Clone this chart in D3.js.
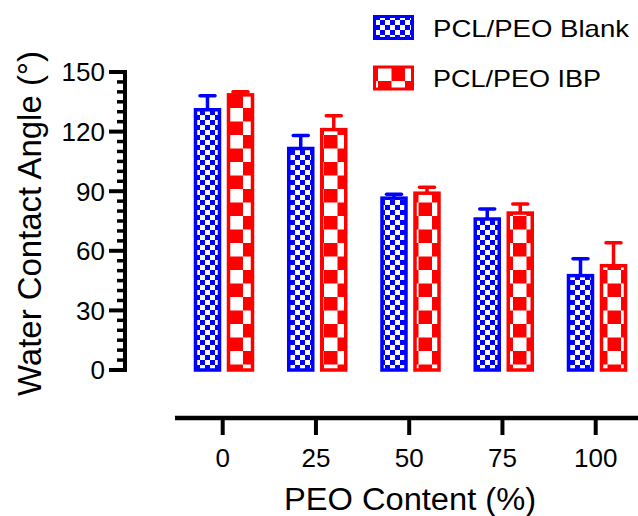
<!DOCTYPE html>
<html><head><meta charset="utf-8">
<script src="https://cdn.jsdelivr.net/npm/d3@7"></script>
<style>
html,body{margin:0;padding:0;background:#fff;}
text{font-family:"Liberation Sans",Arial,sans-serif;fill:#000;}
</style></head>
<body>
<svg id="chart" width="638" height="516"></svg>
<script>
const categories = ["0","25","50","75","100"];
const seriesNames = ["PCL/PEO Blank","PCL/PEO IBP"];
const blankValues = [131, 111.5, 86.5, 76, 47.5];
const blankErrors = [7, 6.5, 2, 5, 8.5];
const ibpValues = [138.5, 121, 89, 79, 52.5];
const ibpErrors = [1.5, 7, 3, 4.5, 11.5];
const yTicks = [0, 30, 60, 90, 120, 150];
const yMinorTicks = d3.range(0, 151, 5);
const xTitle = "PEO Content (%)";
const yTitle = "Water Contact Angle (°)";
const colors = ["#0000FF", "#FF0000"];

const svg = d3.select("#chart");
const defs = svg.append("defs");

// patterns
function checker(id, color, cell){
  const p = defs.append("pattern").attr("id", id).attr("patternUnits","userSpaceOnUse")
    .attr("width", cell*2).attr("height", cell*2);
  p.append("rect").attr("width", cell*2).attr("height", cell*2).attr("fill", "#fff");
  p.append("rect").attr("width", cell).attr("height", cell).attr("fill", color);
  p.append("rect").attr("x", cell).attr("y", cell).attr("width", cell).attr("height", cell).attr("fill", color);
}
checker("patBlue", colors[0], 5);
checker("patRed", colors[1], 13.5);
const pats = ["url(#patBlue)", "url(#patRed)"];

const y = d3.scaleLinear().domain([0, 150]).range([370, 72]);
const x = d3.scalePoint().domain(categories).range([222.7, 595.7]);
const xSub = d3.scaleBand().domain(seriesNames).range([-31.7, 34.3]).paddingInner(0.2727).paddingOuter(0.136);

const series = [
  {name: seriesNames[0], values: blankValues, errors: blankErrors},
  {name: seriesNames[1], values: ibpValues, errors: ibpErrors}
];

// Y axis
const axisX = 125;
const gy = svg.append("g").attr("transform", `translate(${axisX},0)`);
gy.append("line").attr("x1",0).attr("x2",0).attr("y1", y(150)-2).attr("y2", y(0)+2)
  .attr("stroke","#000").attr("stroke-width",4);
gy.selectAll("line.minor").data(yMinorTicks.filter(v => v % 30 !== 0)).join("line")
  .attr("class","minor").attr("x1",-8).attr("x2",0).attr("y1", d=>y(d)).attr("y2", d=>y(d))
  .attr("stroke","#000").attr("stroke-width",3.5);
gy.selectAll("line.major").data(yTicks).join("line")
  .attr("class","major").attr("x1",-16).attr("x2",0).attr("y1", d=>y(d)).attr("y2", d=>y(d))
  .attr("stroke","#000").attr("stroke-width",4);
gy.selectAll("text").data(yTicks).join("text")
  .attr("x", -20).attr("y", d=>y(d)).attr("dy","0.36em").attr("text-anchor","end")
  .attr("font-size", 26).text(d=>d);

// X axis
const axisY = 418;
const gx = svg.append("g").attr("transform", `translate(0,${axisY})`);
gx.append("line").attr("x1",175).attr("x2",638).attr("y1",0).attr("y2",0)
  .attr("stroke","#000").attr("stroke-width",4.5);
gx.selectAll("line.tick").data(categories).join("line").attr("class","tick")
  .attr("x1", d=>x(d)).attr("x2", d=>x(d)).attr("y1",0).attr("y2",17)
  .attr("stroke","#000").attr("stroke-width",4);
gx.selectAll("text").data(categories).join("text")
  .attr("x", d=>x(d)).attr("y", 49).attr("text-anchor","middle").attr("font-size",26).text(d=>d);

// titles
svg.append("text").attr("x", 410).attr("y", 510).attr("text-anchor","middle")
  .attr("font-size", 31).attr("textLength", 252).attr("lengthAdjust","spacingAndGlyphs").text(xTitle);
svg.append("text").attr("transform","translate(41,223.5) rotate(-90)").attr("text-anchor","middle")
  .attr("font-size", 33).attr("textLength", 345).attr("lengthAdjust","spacingAndGlyphs").text(yTitle);

// bars
const bw = xSub.bandwidth();
series.forEach((s, si) => {
  const g = svg.append("g");
  categories.forEach((c, i) => {
    const cx = x(c) + xSub(s.name) + bw/2;
    const v = s.values[i], e = s.errors[i];
    // error bar (upper whisker)
    g.append("line").attr("x1", cx).attr("x2", cx).attr("y1", y(v)).attr("y2", y(v+e))
      .attr("stroke", colors[si]).attr("stroke-width", 3.5);
    g.append("line").attr("x1", cx-7.5).attr("x2", cx+7.5).attr("y1", y(v+e)).attr("y2", y(v+e))
      .attr("stroke", colors[si]).attr("stroke-width", 3.5).attr("stroke-linecap","round");
    g.append("rect").attr("x", cx - bw/2).attr("y", y(v)).attr("width", bw).attr("height", y(0)-y(v))
      .attr("fill", pats[si]).attr("stroke", colors[si]).attr("stroke-width", 3.5);
  });
});

// legend
const legendRows = [27.5, 78];
const lengths = [196, 168];
series.forEach((s, si) => {
  const ly = legendRows[si];
  svg.append("rect").attr("x", 374.5).attr("y", ly-11).attr("width", 38).attr("height", 22)
    .attr("fill", pats[si]).attr("stroke", colors[si]).attr("stroke-width", 3);
  svg.append("text").attr("x", 433).attr("y", ly+9).attr("font-size", 24)
    .attr("textLength", lengths[si]).attr("lengthAdjust","spacingAndGlyphs").text(s.name);
});
</script>
</body></html>
